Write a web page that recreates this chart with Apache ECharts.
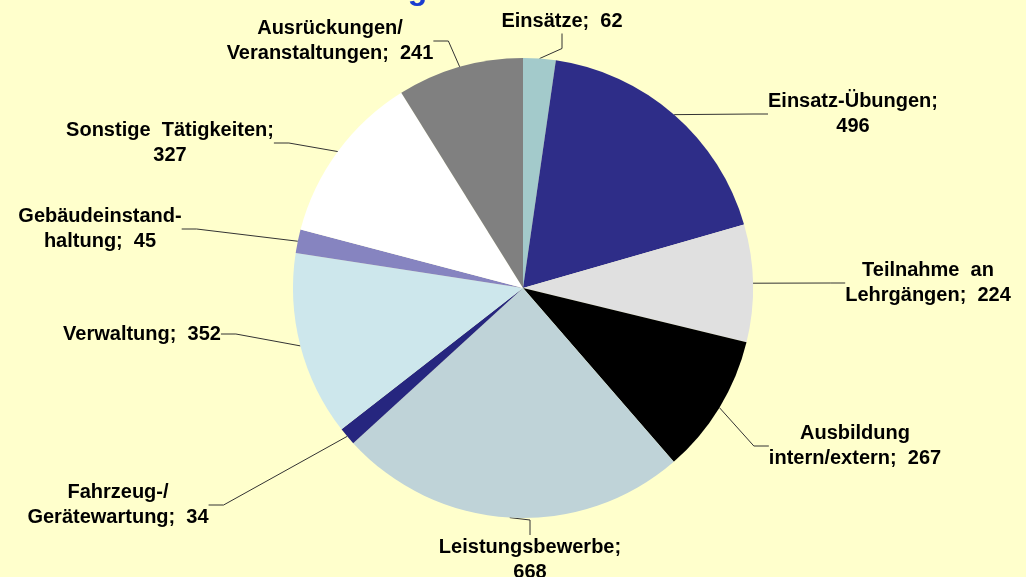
<!DOCTYPE html>
<html><head><meta charset="utf-8">
<script src="https://cdn.jsdelivr.net/npm/echarts@6/dist/echarts.min.js"></script>
<style>html,body{margin:0;padding:0;background:#FFFFCC;}#c{width:1026px;height:577px;}</style>
</head><body><div id="c"></div>
<script>
const categories = ["Einsätze", "Einsatz-Übungen", "Teilnahme  an\nLehrgängen", "Ausbildung\nintern/extern", "Leistungsbewerbe", "Fahrzeug-/\nGerätewartung", "Verwaltung", "Gebäudeinstand-\nhaltung", "Sonstige  Tätigkeiten", "Ausrückungen/\nVeranstaltungen"];
const values = [62, 496, 224, 267, 668, 34, 352, 45, 327, 241];
const labelTexts = ["Einsätze;  62", "Einsatz-Übungen;\n496", "Teilnahme  an\nLehrgängen;  224", "Ausbildung\nintern/extern;  267", "Leistungsbewerbe;\n668", "Fahrzeug-/\nGerätewartung;  34", "Verwaltung;  352", "Gebäudeinstand-\nhaltung;  45", "Sonstige  Tätigkeiten;\n327", "Ausrückungen/\nVeranstaltungen;  241"];
const colors = ["#A3CACB", "#2E2D88", "#E0E0E0", "#000000", "#BFD3D8", "#26267F", "#CDE7EC", "#8684C0", "#FFFFFF", "#808080"];
const labelPos = [[562,21],[853,114],[928,283],[855,446],[530,560],[118,505],[142,334],[100,229],[170,143],[330,41]];
const titleText = "Im Jahr 2012 geleistete 2716 Stunden";

const chart = echarts.init(document.getElementById('c'));
chart.setOption({
  backgroundColor: '#FFFFCC',
  animation: false,
  title: { text: titleText, left: 200, top: -31,
    textStyle: { color: '#1A3DD0', fontSize: 32, fontWeight: 'bold', fontFamily: 'Liberation Sans' } },
  series: [{
    type: 'pie',
    center: [523, 288],
    radius: 230,
    startAngle: 90,
    clockwise: true,
    data: categories.map((c, i) => ({ name: c, value: values[i], itemStyle: { color: colors[i] },
      label: { formatter: labelTexts[i] } })),
    label: { show: true, color: '#000', fontSize: 20, fontWeight: 'bold', fontFamily: 'Liberation Sans', lineHeight: 25, align: 'center' },
    labelLine: { show: true, lineStyle: { color: '#333', width: 1 }, length: 15, length2: 15 },
    labelLayout: function (p) {
      const pos = labelPos[p.dataIndex];
      return { x: pos[0], y: pos[1], align: 'center', verticalAlign: 'middle' };
    },
    emphasis: { disabled: true }
  }]
});
</script></body></html>
